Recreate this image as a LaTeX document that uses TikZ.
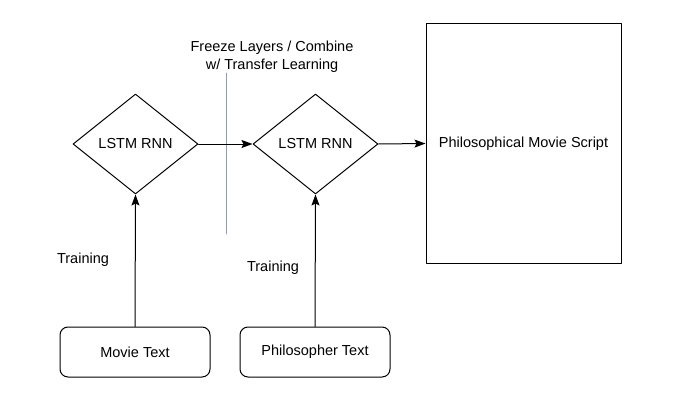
\documentclass[tikz,border=0pt]{standalone}
\usepackage{fontspec}
\setmainfont{Liberation Sans}
\usetikzlibrary{shapes.geometric,arrows.meta}
\definecolor{sepline}{RGB}{135,158,192}
\begin{document}
\begin{tikzpicture}[>={Stealth[length=11pt,width=8pt,inset=2pt]},line join=round,line cap=round,x=1pt,y=-1pt,font=\fontsize{14.5}{17.5}\selectfont,line width=1pt,
	rnn/.style={draw,diamond,aspect=1.25,inner sep=0pt,minimum width=125pt,minimum height=100pt},
	txtbox/.style={draw,rounded corners=8pt,minimum width=150pt,minimum height=50pt},
	outbox/.style={draw,minimum width=195pt,minimum height=239pt},
	flow/.style={->}]
	\useasboundingbox (0,0) rectangle (687,417);
	\node[rnn] (rnnA) at (135.5,144) {LSTM RNN};
	\node[rnn] (rnnB) at (315.5,144) {LSTM RNN};
	\node[outbox] (script) at (523.5,143.5) {Philosophical Movie Script};
	\node[txtbox] (movie) at (135,352) {Movie Text};
	\node[txtbox] (philo) at (315,352) {Philosopher Text};
	\node (freeze) at (272,57) [align=center] {Freeze Layers / Combine\\w/ Transfer Learning};
	\node (trainA) at (83,260) {Training};
	\node (trainB) at (273,268) {Training};
	\coordinate (sepTop) at (226,73);
	\coordinate (sepBot) at (226,234);
	\draw[sepline,line width=0.9pt] (sepTop)--(sepBot);
	\draw[flow] (rnnA.east)--(rnnB.west);
	\draw[flow] (rnnB.east)--(script.west);
	\draw[flow] (movie.north)--(rnnA.south);
	\draw[flow] (philo.north)--(rnnB.south);
\end{tikzpicture}
\end{document}
